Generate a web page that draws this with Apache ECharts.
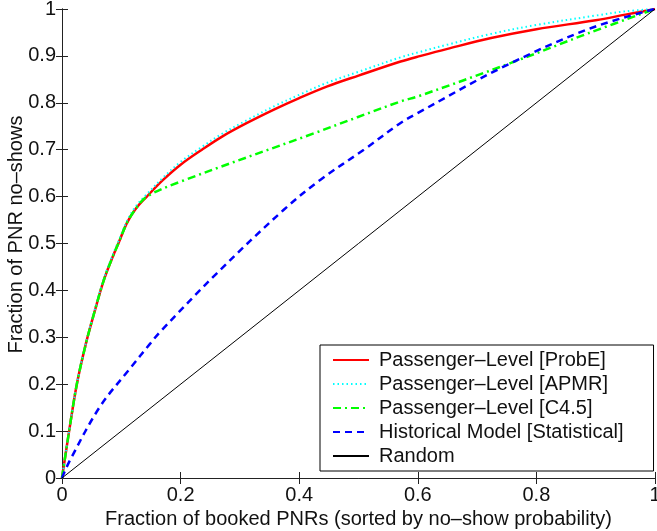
<!DOCTYPE html>
<html>
<head>
<meta charset="utf-8">
<script src="https://cdn.jsdelivr.net/npm/echarts@6/dist/echarts.min.js"></script>
<style>
html,body{margin:0;padding:0;background:#fff;}
#chart{width:657px;height:531px;}
</style>
</head>
<body>
<div id="chart"></div>
<script>
// Series names
const seriesNames = [
  'Passenger\u2013Level [ProbE]',
  'Passenger\u2013Level [APMR]',
  'Passenger\u2013Level [C4.5]',
  'Historical Model [Statistical]',
  'Random'
];

// Passenger-Level [ProbE] : [fraction booked, fraction no-shows]
const probE = [
  [0,0],[0.012,0.10],[0.025,0.20],[0.04,0.285],[0.055,0.355],[0.07,0.42],
  [0.085,0.47],[0.095,0.50],[0.11,0.545],[0.125,0.575],[0.143,0.60],
  [0.17,0.635],[0.2,0.668],[0.236,0.70],[0.27,0.728],[0.312,0.757],
  [0.36,0.787],[0.4,0.81],[0.4475,0.835],[0.5,0.858],[0.571,0.888],
  [0.605,0.90],[0.65,0.915],[0.7236,0.938],[0.8,0.957],[0.9,0.976],
  [0.95,0.988],[1,1]
];

// Passenger-Level [APMR]
const apmr = [
  [0,0],[0.012,0.10],[0.025,0.20],[0.04,0.286],[0.055,0.357],[0.07,0.423],
  [0.085,0.474],[0.095,0.504],[0.11,0.549],[0.125,0.580],[0.143,0.605],
  [0.17,0.640],[0.2,0.674],[0.236,0.706],[0.27,0.734],[0.312,0.763],
  [0.36,0.794],[0.4,0.817],[0.4475,0.843],[0.5,0.866],[0.571,0.897],
  [0.605,0.909],[0.65,0.924],[0.7236,0.947],[0.8,0.966],[0.9,0.986],
  [0.95,0.995],[1,1]
];

// Passenger-Level [C4.5]
const c45 = [
  [0,0],[0.012,0.10],[0.025,0.20],[0.04,0.285],[0.055,0.355],[0.07,0.42],
  [0.085,0.47],[0.095,0.50],[0.11,0.545],[0.125,0.575],[0.143,0.60],
  [0.2,0.632],[0.425,0.735],[0.571,0.803],[0.6,0.8135],[0.757,0.885],
  [0.887,0.948],[1,1]
];

// Historical Model [Statistical]
const historical = [
  [0,0],[0.0135,0.038],[0.064,0.152],[0.115,0.234],[0.149,0.287],
  [0.1657,0.312],[0.2615,0.437],[0.374,0.572],[0.436,0.636],[0.509,0.70],
  [0.571,0.757],[0.5996,0.778],[0.74,0.874],[0.887,0.957],[1,1]
];

// Random
const randomLine = [[0,0],[1,1]];

const xTickInterval = 0.2;
const yTickInterval = 0.1;

const FONT = '"Liberation Sans", Arial, Helvetica, sans-serif';
const FS = 20;
const AXC = '#222';

const chart = echarts.init(document.getElementById('chart'), null, {renderer:'canvas'});

function baseAxis(extra){
  return Object.assign({
    type:'value', min:0, max:1,
    axisLine:{show:true, lineStyle:{color:AXC, width:1}},
    axisTick:{show:true, inside:true, length:6, lineStyle:{color:AXC, width:1}},
    splitLine:{show:false},
    axisLabel:{color:'#111', fontFamily:FONT, fontSize:FS},
    nameTextStyle:{color:'#111', fontFamily:FONT, fontSize:FS}
  }, extra);
}

const option = {
  animation:false,
  backgroundColor:'#fff',
  textStyle:{fontFamily:FONT},
  grid:{left:62, right:2, top:9, bottom:53, containLabel:false, outerBoundsMode:'none'},
  xAxis:[
    baseAxis({position:'bottom', interval:xTickInterval,
      name:'Fraction of booked PNRs (sorted by no\u2013show probability)',
      nameLocation:'middle', nameGap:24,
      axisLabel:{color:'#111', fontFamily:FONT, fontSize:FS, margin:7}}),
    baseAxis({position:'top', interval:xTickInterval, axisLabel:{show:false}})
  ],
  yAxis:[
    baseAxis({position:'left', interval:yTickInterval,
      name:'Fraction of PNR no\u2013shows',
      nameLocation:'middle', nameGap:36, nameMoveOverlap:false,
      nameTextStyle:{color:'#111', fontFamily:FONT, fontSize:FS, padding:[0,0,0,18]},
      axisLabel:{color:'#111', fontFamily:FONT, fontSize:FS, margin:6}}),
    baseAxis({position:'right', interval:yTickInterval, axisLabel:{show:false}})
  ],
  legend:{
    orient:'vertical', left:320, top:345,
    backgroundColor:'#fff', borderColor:'#000', borderWidth:1, borderRadius:0,
    padding:[3,30,3,12], itemGap:0, itemWidth:36, itemHeight:14,
    itemStyle:{opacity:0},
    textStyle:{fontFamily:FONT, fontSize:FS, color:'#111', lineHeight:24, padding:[0,0,0,5]},
    data:seriesNames
  },
  series:[
    {name:seriesNames[0], type:'line', data:probE, symbol:'none', smooth:0.35,
      lineStyle:{color:'#ff0000', width:2.5, type:'solid'}, itemStyle:{color:'#ff0000'}},
    {name:seriesNames[1], type:'line', data:apmr, symbol:'none', smooth:0.35,
      lineStyle:{color:'#00ffff', width:2, type:[1.5,3]}, itemStyle:{color:'#00ffff'}},
    {name:seriesNames[2], type:'line', data:c45, symbol:'none', smooth:0.35,
      lineStyle:{color:'#00ff00', width:2.5, type:[8,4,2,4]}, itemStyle:{color:'#00ff00'}},
    {name:seriesNames[3], type:'line', data:historical, symbol:'none', smooth:0.35,
      lineStyle:{color:'#0000ff', width:2.5, type:[7,5]}, itemStyle:{color:'#0000ff'}},
    {name:seriesNames[4], type:'line', data:randomLine, symbol:'none',
      lineStyle:{color:'#000', width:1, type:'solid'}, itemStyle:{color:'#000'}}
  ]
};
chart.setOption(option);
</script>
</body>
</html>
